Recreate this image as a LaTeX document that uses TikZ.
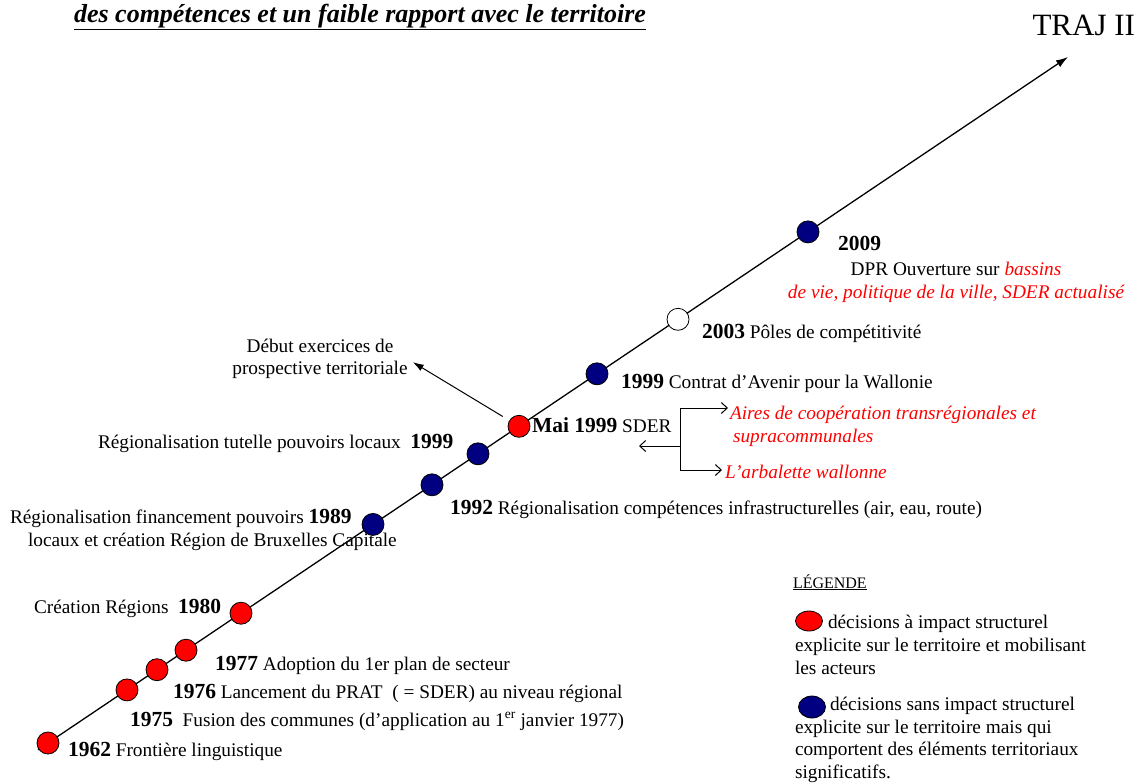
\documentclass[tikz,border=0pt]{standalone}
\usepackage{fontspec}
\setmainfont{Liberation Serif}
\usetikzlibrary{arrows.meta,calc,shapes.geometric}
\definecolor{dotred}{RGB}{255,0,0}
\definecolor{dotblue}{RGB}{0,0,128}
\newcommand\yrtxt[1]{{\fontsize{21.5}{23}\selectfont\bfseries #1}}
\begin{document}
\begin{tikzpicture}[x=1pt,y=-1pt,
  every node/.style={inner sep=0pt,outer sep=0pt},
  lbl/.style={anchor=base west,font=\fontsize{19.3}{23}\selectfont},
  rit/.style={color=dotred,font=\fontsize{19.3}{23}\selectfont\itshape},
  ev/.style={circle,draw=black,line width=0.8pt,minimum size=22pt},
  evred/.style={ev,fill=dotred},
  evblue/.style={ev,fill=dotblue},
  evwhite/.style={ev,fill=white},
  axis/.style={line width=1.3pt,-{Latex[length=12pt,width=8pt]}},
  thin arrow/.style={line width=1pt,-{Latex[length=11pt,width=7pt]}},
  open arrow/.style={line width=1pt,-{Straight Barb[length=6pt,width=11pt]}}]
\useasboundingbox (0,0) rectangle (1145,782);

% title and name of the trajectory
\node[anchor=base,font=\fontsize{26}{28}\selectfont\bfseries\itshape] (title) at (360,22)
  {\underline{des compétences et un faible rapport avec le territoire}};
\node[anchor=base east,font=\fontsize{31}{33}\selectfont] (traj) at (1135,35) {TRAJ II};

% time axis
\coordinate (S) at (38,749.7);
\coordinate (E) at (1068,57);
\draw[axis] (S) -- (E);

% events on the axis
\node[evred]   (d62)  at (48,743)   {};
\node[evred]   (d75)  at (127,689.9) {};
\node[evred]   (d76)  at (157,669.7) {};
\node[evred]   (d77)  at (186,650.2) {};
\node[evred]   (d80)  at (241,613.2) {};
\node[evblue]  (d89)  at (373,524.4) {};
\node[evblue]  (d92)  at (432,484.8) {};
\node[evblue]  (d99t) at (478,453.8) {};
\node[evred]   (dMai) at (519,426.3) {};
\node[evblue]  (d99c) at (597,373.8) {};
\node[evwhite] (d03)  at (678,319.3) {};
\node[evblue]  (d09)  at (808,231.9) {};

% event labels
\node[lbl] (l62) at (68,756) {\yrtxt{1962} Frontière linguistique};
\node[lbl] (l75) at (130,726) {\yrtxt{1975}\ \ Fusion des communes (d’application au 1\textsuperscript{er} janvier 1977)};
\node[lbl] (l76) at (173,698) {\yrtxt{1976} Lancement du PRAT\ \ ( = SDER) au niveau régional};
\node[lbl] (l77) at (215,670) {\yrtxt{1977} Adoption du 1er plan de secteur};
\node[lbl] (l80) at (34,613) {Création Régions\ \ \yrtxt{1980}};
\node[lbl,align=left] (l89) at (10,546) {Régionalisation financement pouvoirs \yrtxt{1989}\\\hspace*{18pt}locaux et création Région de Bruxelles Capitale};
\node[lbl] (l92) at (450,514) {\yrtxt{1992} Régionalisation compétences infrastructurelles (air, eau, route)};
\node[lbl] (l99t) at (98,448) {Régionalisation tutelle pouvoirs locaux\ \ \yrtxt{1999}};
\node[lbl] (lMai) at (532,432) {\yrtxt{Mai 1999} SDER};
\node[lbl] (l99c) at (621,388) {\yrtxt{1999} Contrat d'Avenir pour la Wallonie};
\node[lbl] (l03) at (702,338) {\yrtxt{2003} Pôles de compétitivité};
\node[lbl] (l09) at (838,250) {\yrtxt{2009}};
\node[align=center,font=\fontsize{19.3}{23}\selectfont] (l09b) at (956,282)
  {DPR Ouverture sur \textcolor{dotred}{\itshape bassins}\\
   \textcolor{dotred}{\itshape de vie, politique de la ville, SDER actualisé}};

% prospective exercise
\node[align=center,font=\fontsize{19.3}{22}\selectfont] (prosp) at (320,359)
  {Début exercices de\\prospective territoriale};
\draw[thin arrow,shorten <=19pt,shorten >=6pt] (dMai.center) -- (prosp.east);

% SDER outcomes
\coordinate (bT) at (680,408);
\coordinate (bM) at (680,446);
\coordinate (bB) at (680,470);
\node[rit,anchor=base west,align=left] (aires) at (730,442)
  {Aires de coopération transrégionales et\\\hspace*{3pt}supracommunales};
\node[rit,anchor=base west] (arb) at (725,478) {L’arbalette wallonne};
\draw[line width=1pt] (bT) -- (bB);
\draw[open arrow] (bT) -- ($(aires.west|-bT)+(-2,0)$);
\draw[open arrow] (bB) -- ($(arb.west|-bB)+(-3,0)$);
\draw[open arrow] (bM) -- ++(-41,0) coordinate (bL);

% legend
\node[lbl,font=\fontsize{16}{18}\selectfont] (leg) at (793,588) {\underline{LÉGENDE}};
\node[ellipse,draw=black,line width=0.8pt,fill=dotred,minimum width=27pt,minimum height=20pt] (kr) at (809,621) {};
\node[lbl,align=left] (kr1) at (795,674)
  {\hspace*{33pt}décisions à impact structurel\\explicite sur le territoire et mobilisant\\les acteurs};
\node[ellipse,draw=black,line width=0.8pt,fill=dotblue,minimum width=27pt,minimum height=22pt] (kb) at (812,707) {};
\node[lbl,align=left,font=\fontsize{19.3}{22.5}\selectfont] (kb1) at (795,778)
  {\hspace*{35pt}décisions sans impact structurel\\explicite sur le territoire mais qui\\comportent des éléments territoriaux\\\underline{significatifs}.};
\end{tikzpicture}
\end{document}
